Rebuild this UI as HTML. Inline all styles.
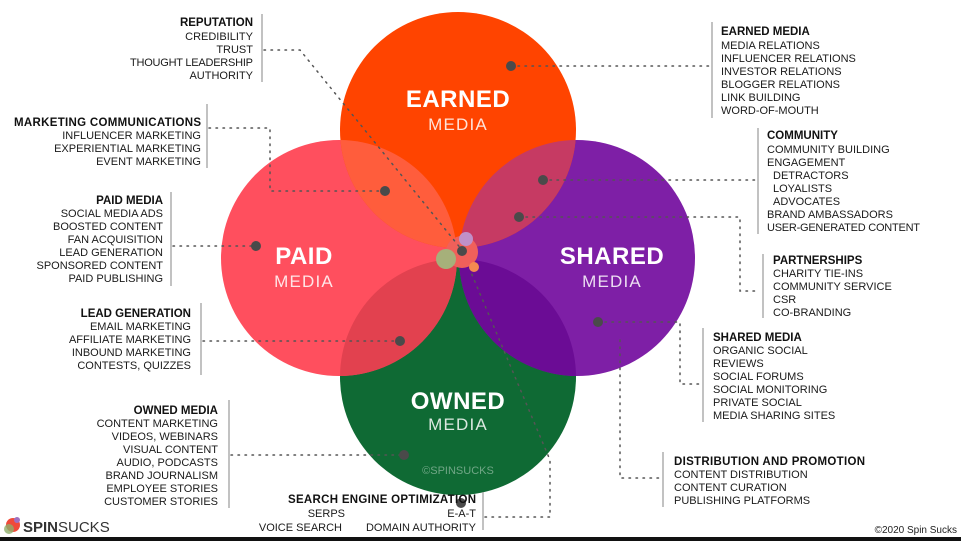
<!DOCTYPE html>
<html><head><meta charset="utf-8"><style>
html,body{margin:0;padding:0;background:#fff;}
svg{display:block;font-family:"Liberation Sans",Arial,sans-serif;}
.t{font-size:11px;fill:#1a1a1a;}
.b{font-weight:bold;fill:#111;font-size:11.5px;}
.v{stroke:#999;stroke-width:1.2;}
.d{stroke:#555;stroke-width:1.5;stroke-dasharray:1.5 5.5;fill:none;stroke-linecap:round;}
.big{font-size:24px;font-weight:bold;fill:#fff;letter-spacing:0.5px;}
.med{font-size:17px;fill:#fff;fill-opacity:.85;letter-spacing:1.2px;}
</style></head><body>
<svg width="961" height="541" viewBox="0 0 961 541">
<defs>
<clipPath id="cE"><circle cx="458" cy="130" r="118"/></clipPath>
<clipPath id="cO"><circle cx="458" cy="377" r="118"/></clipPath>
</defs>
<circle cx="458" cy="377" r="118" fill="#0f6a34"/>
<circle cx="339" cy="258" r="118" fill="#ff4f5e"/>
<circle cx="577" cy="258" r="118" fill="#7e1fa6"/>
<circle cx="458" cy="130" r="118" fill="#ff4400"/>
<g clip-path="url(#cE)"><circle cx="339" cy="258" r="118" fill="#ff5d3c"/><circle cx="577" cy="258" r="118" fill="#c63a63"/></g>
<g clip-path="url(#cO)"><circle cx="339" cy="258" r="118" fill="#e2414f"/><circle cx="577" cy="258" r="118" fill="#6b0c95"/></g>
<circle cx="462" cy="252" r="16" fill="#f0605a"/>
<circle cx="446" cy="259" r="10" fill="#a6b07a"/>
<circle cx="466" cy="239" r="7" fill="#c090c8"/>
<circle cx="474" cy="267" r="5" fill="#f58a50"/>
<text x="458" y="107" text-anchor="middle" class="big">EARNED</text>
<text x="458" y="130" text-anchor="middle" class="med">MEDIA</text>
<text x="304" y="264" text-anchor="middle" class="big">PAID</text>
<text x="304" y="287" text-anchor="middle" class="med">MEDIA</text>
<text x="612" y="264" text-anchor="middle" class="big">SHARED</text>
<text x="612" y="287" text-anchor="middle" class="med">MEDIA</text>
<text x="458" y="409" text-anchor="middle" class="big">OWNED</text>
<text x="458" y="430" text-anchor="middle" class="med">MEDIA</text>
<text x="458" y="474" text-anchor="middle" font-size="11" fill="#fff" fill-opacity=".4">©SPINSUCKS</text>

<path class="d" d="M264 50 H300 L462 250"/>
<path class="d" d="M209 128 H270 V191 H385"/>
<path class="d" d="M173 246 H256"/>
<path class="d" d="M203 341 H400"/>
<path class="d" d="M231 455 H404"/>
<path class="d" d="M485 517 H550 V460 L470 270"/>
<path class="d" d="M511 66 H710"/>
<path class="d" d="M543 180 H755"/>
<path class="d" d="M519 217 H740 V291 H760"/>
<path class="d" d="M598 322 H680 V384 H700"/>
<path class="d" d="M620 340 V478 H660"/>
<g fill="#4a4a4a">
<circle cx="462" cy="251" r="5"/><circle cx="385" cy="191" r="5"/><circle cx="256" cy="246" r="5"/>
<circle cx="400" cy="341" r="5"/><circle cx="404" cy="455" r="5"/><circle cx="461" cy="503" r="5"/>
<circle cx="511" cy="66" r="5"/><circle cx="543" cy="180" r="5"/><circle cx="519" cy="217" r="5"/>
<circle cx="598" cy="322" r="5"/>
</g>

<line class="v" x1="262" y1="14" x2="262" y2="82"/>
<g text-anchor="end" class="t">
<text x="253" y="26" class="b">REPUTATION</text>
<text x="253" y="40">CREDIBILITY</text><text x="253" y="53">TRUST</text><text x="253" y="66" textLength="123">THOUGHT LEADERSHIP</text><text x="253" y="79">AUTHORITY</text>
</g>
<line class="v" x1="207" y1="104" x2="207" y2="168"/>
<g text-anchor="end" class="t">
<text x="201" y="126" class="b" textLength="187">MARKETING COMMUNICATIONS</text>
<text x="201" y="139">INFLUENCER MARKETING</text><text x="201" y="152">EXPERIENTIAL MARKETING</text><text x="201" y="165">EVENT MARKETING</text>
</g>
<line class="v" x1="171" y1="192" x2="171" y2="286"/>
<g text-anchor="end" class="t">
<text x="163" y="204" class="b">PAID MEDIA</text>
<text x="163" y="217">SOCIAL MEDIA ADS</text><text x="163" y="230">BOOSTED CONTENT</text><text x="163" y="243">FAN ACQUISITION</text><text x="163" y="256">LEAD GENERATION</text><text x="163" y="269">SPONSORED CONTENT</text><text x="163" y="282">PAID PUBLISHING</text>
</g>
<line class="v" x1="201" y1="303" x2="201" y2="375"/>
<g text-anchor="end" class="t">
<text x="191" y="317" class="b">LEAD GENERATION</text>
<text x="191" y="330">EMAIL MARKETING</text><text x="191" y="343">AFFILIATE MARKETING</text><text x="191" y="356">INBOUND MARKETING</text><text x="191" y="369">CONTESTS, QUIZZES</text>
</g>
<line class="v" x1="229" y1="400" x2="229" y2="508"/>
<g text-anchor="end" class="t">
<text x="218" y="414" class="b">OWNED MEDIA</text>
<text x="218" y="427">CONTENT MARKETING</text><text x="218" y="440">VIDEOS, WEBINARS</text><text x="218" y="453">VISUAL CONTENT</text><text x="218" y="466">AUDIO, PODCASTS</text><text x="218" y="479">BRAND JOURNALISM</text><text x="218" y="492">EMPLOYEE STORIES</text><text x="218" y="505">CUSTOMER STORIES</text>
</g>
<line class="v" x1="483" y1="492" x2="483" y2="530"/>
<g class="t">
<text x="476" y="503" text-anchor="end" class="b" textLength="188">SEARCH ENGINE OPTIMIZATION</text>
<text x="345" y="517" text-anchor="end">SERPS</text><text x="476" y="517" text-anchor="end">E-A-T</text>
<text x="342" y="531" text-anchor="end">VOICE SEARCH</text><text x="476" y="531" text-anchor="end">DOMAIN AUTHORITY</text>
</g>

<line class="v" x1="712" y1="22" x2="712" y2="118"/>
<g class="t">
<text x="721" y="35" class="b">EARNED MEDIA</text>
<text x="721" y="49">MEDIA RELATIONS</text><text x="721" y="62">INFLUENCER RELATIONS</text><text x="721" y="75">INVESTOR RELATIONS</text><text x="721" y="88">BLOGGER RELATIONS</text><text x="721" y="101">LINK BUILDING</text><text x="721" y="114">WORD-OF-MOUTH</text>
</g>
<line class="v" x1="758" y1="128" x2="758" y2="234"/>
<g class="t">
<text x="767" y="139" class="b">COMMUNITY</text>
<text x="767" y="153">COMMUNITY BUILDING</text><text x="767" y="166">ENGAGEMENT</text><text x="773" y="179">DETRACTORS</text><text x="773" y="192">LOYALISTS</text><text x="773" y="205">ADVOCATES</text><text x="767" y="218">BRAND AMBASSADORS</text><text x="767" y="231" textLength="153">USER-GENERATED CONTENT</text>
</g>
<line class="v" x1="763" y1="254" x2="763" y2="318"/>
<g class="t">
<text x="773" y="264" class="b">PARTNERSHIPS</text>
<text x="773" y="277">CHARITY TIE-INS</text><text x="773" y="290">COMMUNITY SERVICE</text><text x="773" y="303">CSR</text><text x="773" y="316">CO-BRANDING</text>
</g>
<line class="v" x1="703" y1="328" x2="703" y2="422"/>
<g class="t">
<text x="713" y="341" class="b">SHARED MEDIA</text>
<text x="713" y="354">ORGANIC SOCIAL</text><text x="713" y="367">REVIEWS</text><text x="713" y="380">SOCIAL FORUMS</text><text x="713" y="393">SOCIAL MONITORING</text><text x="713" y="406">PRIVATE SOCIAL</text><text x="713" y="419">MEDIA SHARING SITES</text>
</g>
<line class="v" x1="663" y1="452" x2="663" y2="507"/>
<g class="t">
<text x="674" y="465" class="b" textLength="191">DISTRIBUTION AND PROMOTION</text>
<text x="674" y="478">CONTENT DISTRIBUTION</text><text x="674" y="491">CONTENT CURATION</text><text x="674" y="504">PUBLISHING PLATFORMS</text>
</g>
<text x="957" y="533" text-anchor="end" font-size="10" fill="#222">©2020 Spin Sucks</text>

<circle cx="13" cy="525" r="7" fill="#f04a3a"/><circle cx="9" cy="529" r="5" fill="#8fae6a" fill-opacity=".8"/><circle cx="17" cy="520" r="3" fill="#a070c0"/>
<text x="23" y="532" font-size="15" fill="#333"><tspan font-weight="bold">SPIN</tspan>SUCKS</text>
<rect x="0" y="537" width="961" height="4" fill="#111"/>
</svg>
</body></html>
